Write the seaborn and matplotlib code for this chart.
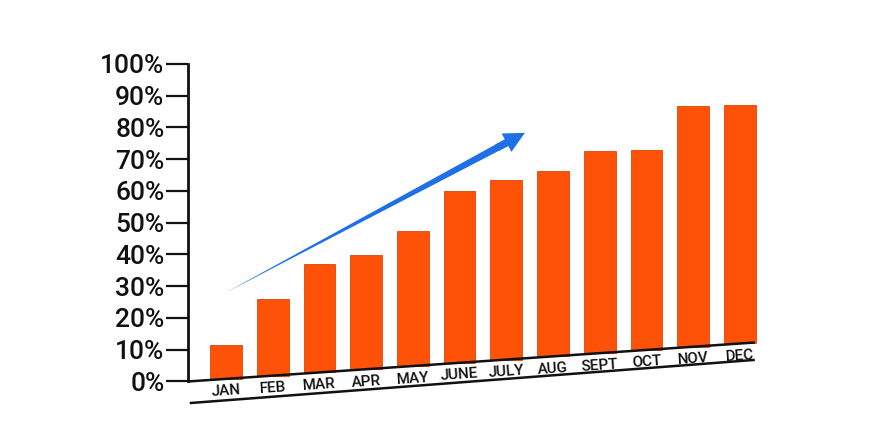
import matplotlib
matplotlib.use("Agg")
import matplotlib.pyplot as plt
import numpy as np
import pandas as pd
import seaborn as sns

# Monthly share, read against the y-axis ticks
MONTHS = ["JAN", "FEB", "MAR", "APR", "MAY", "JUNE",
          "JULY", "AUG", "SEPT", "OCT", "NOV", "DEC"]
VALUES = [11.5, 26.0, 37.0, 39.8, 47.4, 60.0,
          63.5, 66.3, 72.6, 72.9, 86.8, 87.1]
Y_TICKS = list(range(0, 101, 10))
Y_TICK_LABELS = [f"{v}%" for v in Y_TICKS]

BAR_COLOR = "#fd5208"
ARROW_COLOR = "#1f6fe6"
INK = "#111111"
SLOPE = 0.124  # tilt of the drawn baseline, in axes fractions

sns.set_theme(style="white")
plt.rcParams["font.family"] = ["Roboto", "DejaVu Sans"]

df = pd.DataFrame({"month": MONTHS, "value": VALUES})

fig = plt.figure(figsize=(8.84, 4.40), dpi=100)
ax = fig.add_axes([0.2127, 0.133, 0.647, 0.7216])

sns.barplot(data=df, x="month", y="value", color=BAR_COLOR, width=0.68,
            saturation=1, edgecolor="#e04604", linewidth=0.6, ax=ax)

ax.set_ylim(0, 100)
ax.set_xlim(-0.814, 11.43)
x0, x1 = ax.get_xlim()

# bars stand on the tilted baseline, tops stay on the y scale
for patch in ax.patches:
    cx = patch.get_x() + patch.get_width() / 2
    bottom = SLOPE * (cx - x0) / (x1 - x0) * 100
    top = patch.get_y() + patch.get_height()
    patch.set_y(bottom)
    patch.set_height(top - bottom)
    patch.set_clip_on(False)

ax.set_yticks(Y_TICKS)
ax.set_yticklabels(Y_TICK_LABELS, fontsize=19, fontweight="medium", color=INK)
ax.tick_params(axis="y", direction="out", length=16, width=1.6,
               color=INK, pad=1, left=True)
ax.set_xticks([])
ax.set_xlabel("")
ax.set_ylabel("")

for side in ["top", "right", "bottom"]:
    ax.spines[side].set_visible(False)
ax.spines["left"].set_linewidth(2.0)
ax.spines["left"].set_color(INK)

# tilted baseline and underline
ax.plot([0, 0.991], [0, 0.1228], transform=ax.transAxes,
        color=INK, lw=1.8, clip_on=False, solid_capstyle="butt")
ax.plot([0.003, 0.991], [-0.068, 0.068], transform=ax.transAxes,
        color=INK, lw=1.8, clip_on=False, solid_capstyle="butt")

# month labels between the two lines
angle = np.degrees(np.arctan(SLOPE * 317.5 / 572))
for i, m in enumerate(MONTHS):
    base = SLOPE * (i - x0) / (x1 - x0) * 100
    ax.text(i, base - 3.9, m, ha="center", va="center", fontsize=11,
            fontweight="medium", rotation=angle, rotation_mode="anchor",
            color=INK, clip_on=False)

# trend arrow: tapered shaft plus head
ax.annotate("", xy=(0.065, 0.279), xytext=(0.565, 0.760),
            xycoords="axes fraction", textcoords="axes fraction",
            arrowprops=dict(arrowstyle="wedge,tail_width=0.45,shrink_factor=0.5",
                            color=ARROW_COLOR, mutation_scale=12, lw=0,
                            shrinkA=0, shrinkB=0))
ax.annotate("", xy=(0.589, 0.783), xytext=(0.54, 0.736),
            xycoords="axes fraction", textcoords="axes fraction",
            arrowprops=dict(arrowstyle="simple,head_length=1.0,head_width=1.0,tail_width=0.35",
                            color=ARROW_COLOR, mutation_scale=15, lw=0,
                            shrinkA=0, shrinkB=0))

fig.savefig("out.png", dpi=100)
